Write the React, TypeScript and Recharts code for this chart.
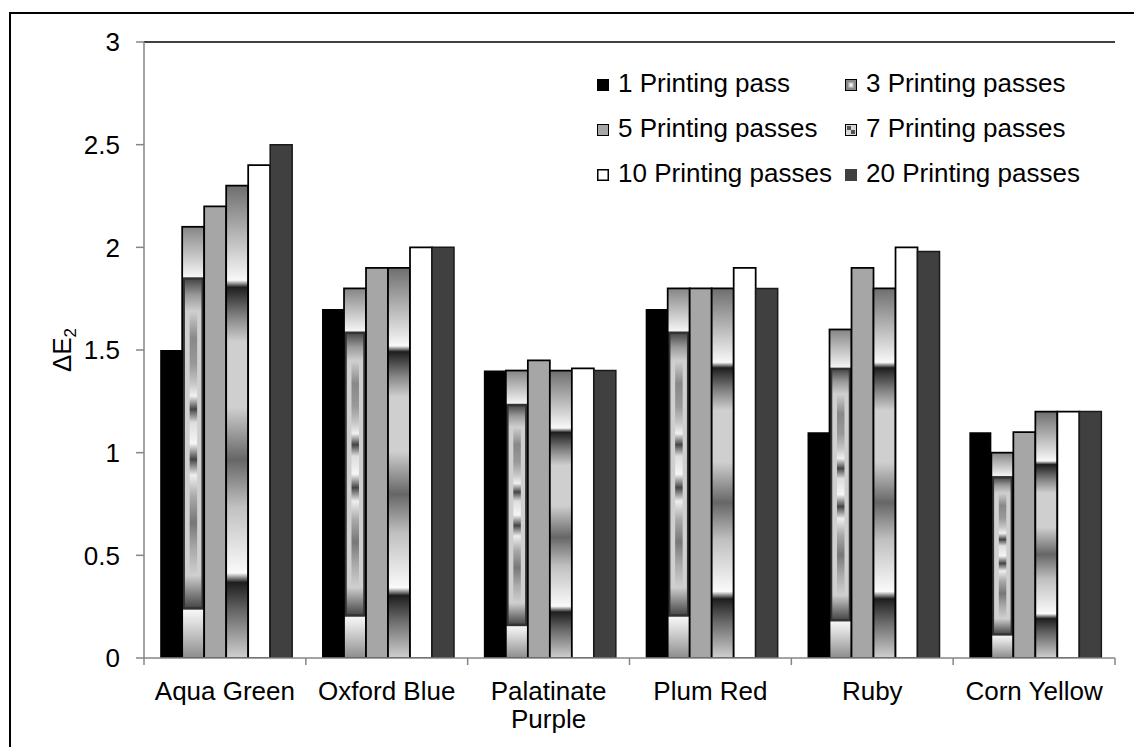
import React from "react";
import { BarChart, Bar, XAxis, YAxis, Legend, ReferenceLine } from "recharts";

const categories = ["Aqua Green", "Oxford Blue", "Palatinate Purple", "Plum Red", "Ruby", "Corn Yellow"];
const seriesNames = ["1 Printing pass", "3 Printing passes", "5 Printing passes", "7 Printing passes", "10 Printing passes", "20 Printing passes"];
const pass1 = [1.5, 1.7, 1.4, 1.7, 1.1, 1.1];
const pass3 = [2.1, 1.8, 1.4, 1.8, 1.6, 1.0];
const pass5 = [2.2, 1.9, 1.45, 1.8, 1.9, 1.1];
const pass7 = [2.3, 1.9, 1.4, 1.8, 1.8, 1.2];
const pass10 = [2.4, 2.0, 1.41, 1.9, 2.0, 1.2];
const pass20 = [2.5, 2.0, 1.4, 1.8, 1.98, 1.2];
const yTicks = [0, 0.5, 1, 1.5, 2, 2.5, 3];

const keys = ["p1", "p3", "p5", "p7", "p10", "p20"];
const seriesValues = [pass1, pass3, pass5, pass7, pass10, pass20];
const data = categories.map((name, i) => {
  const row: any = { name };
  keys.forEach((k, j) => (row[k] = seriesValues[j][i]));
  return row;
});

const FONT = "'Liberation Sans', Arial, sans-serif";
const AXIS = "#868686";
const TICK_SIZE = 7;
const TICK_MARGIN = 2;

const splitLabel = (s: string) => (s.length > 12 ? s.split(" ") : [s]);

const XTick = (props: any) => {
  const { x, y, payload, index, visibleTicksCount } = props;
  const off = payload?.offset ?? 0;
  const axisY = y - TICK_SIZE - TICK_MARGIN;
  const lines = splitLabel(String(payload.value));
  const isLast = index === (visibleTicksCount ?? categories.length) - 1;
  return (
    <g>
      <line x1={x - off} x2={x - off} y1={axisY} y2={axisY + TICK_SIZE} stroke={AXIS} strokeWidth={1.5} />
      {isLast && (
        <line x1={x + off} x2={x + off} y1={axisY} y2={axisY + TICK_SIZE} stroke={AXIS} strokeWidth={1.5} />
      )}
      <text x={x} y={y} textAnchor="middle" fontSize={26} fontFamily={FONT} fill="#000">
        {lines.map((l, i) => (
          <tspan key={i} x={x} dy={i === 0 ? 33 : 28}>
            {l}
          </tspan>
        ))}
      </text>
    </g>
  );
};

const YLabel = (props: any) => {
  const vb = props.viewBox || { x: 84, y: 42, width: 60, height: 616 };
  const cx = vb.x - 13;
  const cy = vb.y + vb.height / 2;
  return (
    <text
      x={cx}
      y={cy}
      transform={`rotate(-90, ${cx}, ${cy})`}
      textAnchor="middle"
      fontSize={26}
      fontFamily={FONT}
      fill="#000"
    >
      ΔE
      <tspan fontSize={17} dy={5}>
        2
      </tspan>
    </text>
  );
};

const Shape3 = (props: any) => {
  const { x, y, width: w, height: h } = props;
  if (!h || h <= 0) return null;
  const t = 0.12;
  const b = 0.885;
  const ty = y + t * h;
  const by = y + b * h;
  const ph = by - ty;
  return (
    <g>
      <rect x={x} y={y} width={w} height={ty - y} fill="url(#g3top)" />
      <rect x={x} y={by} width={w} height={y + h - by} fill="url(#g3bot)" />
      <rect x={x + 1.5} y={ty} width={w - 3} height={ph} fill="url(#g3mid)" stroke="#333" strokeWidth={2.5} />
      <rect x={x + w * 0.34} y={ty + ph * 0.1} width={w * 0.34} height={ph * 0.8} fill="url(#g3stripe)" />
      <rect x={x} y={y} width={w} height={h} fill="none" stroke="#000" strokeWidth={1.75} />
    </g>
  );
};

const LegendIcon = ({ k }: { k: string }) => {
  const s = 12;
  let inner: any = null;
  if (k === "p1") inner = <rect x={0} y={0} width={s} height={s} fill="#000" />;
  else if (k === "p3")
    inner = (
      <>
        <rect x={0.5} y={0.5} width={s - 1} height={s - 1} fill="#8a8a8a" stroke="#000" />
        <rect x={3.5} y={3.5} width={5} height={5} fill="#d0d0d0" />
        <rect x={5} y={5} width={2} height={2} fill="#f4f4f4" />
      </>
    );
  else if (k === "p5") inner = <rect x={0.5} y={0.5} width={s - 1} height={s - 1} fill="#a6a6a6" stroke="#000" />;
  else if (k === "p7")
    inner = (
      <>
        <rect x={0.5} y={0.5} width={s - 1} height={s - 1} fill="#d8d8d8" stroke="#000" />
        <rect x={2} y={2} width={4} height={4} fill="#555" />
        <rect x={6} y={6} width={4} height={4} fill="#555" />
      </>
    );
  else if (k === "p10") inner = <rect x={0.75} y={0.75} width={s - 1.5} height={s - 1.5} fill="#fff" stroke="#000" strokeWidth={1.5} />;
  else inner = <rect x={0} y={0} width={s} height={s} fill="#404040" />;
  return (
    <svg width={s} height={s} style={{ display: "inline-block", verticalAlign: "1px", marginRight: 9 }}>
      {inner}
    </svg>
  );
};

const LegendContent = (props: any) => {
  const payload = [...(props.payload || [])].sort(
    (a: any, b: any) => keys.indexOf(a.dataKey) - keys.indexOf(b.dataKey)
  );
  return (
    <div
      style={{
        display: "grid",
        gridTemplateColumns: "248px 270px",
        fontFamily: FONT,
        fontSize: 26,
        lineHeight: "45px",
        color: "#000",
        whiteSpace: "nowrap",
      }}
    >
      {payload.map((p: any) => (
        <div key={p.dataKey}>
          <LegendIcon k={p.dataKey} />
          {p.value}
        </div>
      ))}
    </div>
  );
};

export default function App() {
  const stroke = { stroke: "#000", strokeWidth: 1.75 };
  return (
    <div style={{ position: "absolute", left: 0, top: 0, width: 1134, height: 747, overflow: "hidden", background: "#fff" }}>
      <div
        style={{
          position: "absolute",
          left: 9,
          top: 12,
          width: 1200,
          height: 800,
          borderLeft: "2px solid #000",
          borderTop: "2px solid #000",
        }}
      />
      <BarChart
        width={1134}
        height={747}
        data={data}
        margin={{ top: 42, right: 19, left: 84, bottom: 29 }}
        barCategoryGap="10%"
        barGap={0}
      >
        <defs>
          <linearGradient id="g3top" x1="0" y1="0" x2="0" y2="1">
            <stop offset="0" stopColor="#858585" />
            <stop offset="0.75" stopColor="#dcdcdc" />
            <stop offset="1" stopColor="#fafafa" />
          </linearGradient>
          <linearGradient id="g3bot" x1="0" y1="0" x2="0" y2="1">
            <stop offset="0" stopColor="#fafafa" />
            <stop offset="0.3" stopColor="#dcdcdc" />
            <stop offset="1" stopColor="#8c8c8c" />
          </linearGradient>
          <linearGradient id="g3mid" x1="0" y1="0" x2="0" y2="1">
            <stop offset="0" stopColor="#444" />
            <stop offset="0.05" stopColor="#999" />
            <stop offset="0.1" stopColor="#cfcfcf" />
            <stop offset="0.9" stopColor="#cfcfcf" />
            <stop offset="0.95" stopColor="#888" />
            <stop offset="1" stopColor="#444" />
          </linearGradient>
          <linearGradient id="g3stripe" x1="0" y1="0" x2="0" y2="1">
            <stop offset="0" stopColor="#cfcfcf" />
            <stop offset="0.1" stopColor="#888" />
            <stop offset="0.2" stopColor="#999" />
            <stop offset="0.27" stopColor="#c4c4c4" />
            <stop offset="0.32" stopColor="#f0f0f0" />
            <stop offset="0.37" stopColor="#444" />
            <stop offset="0.42" stopColor="#ddd" />
            <stop offset="0.5" stopColor="#f5f5f5" />
            <stop offset="0.56" stopColor="#444" />
            <stop offset="0.62" stopColor="#eee" />
            <stop offset="0.7" stopColor="#aaa" />
            <stop offset="0.8" stopColor="#777" />
            <stop offset="0.9" stopColor="#aaa" />
            <stop offset="1" stopColor="#cfcfcf" />
          </linearGradient>
          <linearGradient id="g7" x1="0" y1="0" x2="0" y2="1">
            <stop offset="0" stopColor="#6e6e6e" />
            <stop offset="0.2" stopColor="#f8f8f8" />
            <stop offset="0.215" stopColor="#1e1e1e" />
            <stop offset="0.28" stopColor="#888" />
            <stop offset="0.33" stopColor="#cfcfcf" />
            <stop offset="0.47" stopColor="#cfcfcf" />
            <stop offset="0.58" stopColor="#666" />
            <stop offset="0.68" stopColor="#c0c0c0" />
            <stop offset="0.82" stopColor="#fafafa" />
            <stop offset="0.84" stopColor="#1e1e1e" />
            <stop offset="0.9" stopColor="#666" />
            <stop offset="1" stopColor="#d0d0d0" />
          </linearGradient>
        </defs>
        <XAxis
          dataKey="name"
          type="category"
          height={60}
          tickSize={TICK_SIZE}
          tickMargin={TICK_MARGIN}
          tickLine={false}
          axisLine={{ stroke: AXIS, strokeWidth: 1.5 }}
          tick={<XTick />}
          interval={0}
        />
        <YAxis
          type="number"
          domain={[0, 3]}
          ticks={yTicks}
          width={60}
          tickSize={8}
          tickMargin={16}
          axisLine={{ stroke: AXIS, strokeWidth: 1.5 }}
          tickLine={{ stroke: AXIS, strokeWidth: 1.5 }}
          tick={{ fill: "#000", fontSize: 26, fontFamily: FONT }}
          label={<YLabel />}
          allowDataOverflow
        />
        <YAxis
          yAxisId="r"
          orientation="right"
          domain={[0, 3]}
          width={0}
          tick={false}
          tickLine={false}
          axisLine={{ stroke: "#000", strokeWidth: 1.5 }}
        />
        <ReferenceLine y={3} stroke="#000" strokeWidth={1.5} />
        <Legend
          layout="horizontal"
          verticalAlign="middle"
          align="center"
          wrapperStyle={{ top: 61, left: 597, width: 530 }}
          content={<LegendContent />}
        />
        <Bar dataKey="p1" name={seriesNames[0]} fill="#000" isAnimationActive={false} />
        <Bar dataKey="p3" name={seriesNames[1]} fill="#a0a0a0" shape={<Shape3 />} isAnimationActive={false} />
        <Bar dataKey="p5" name={seriesNames[2]} fill="#a6a6a6" {...stroke} isAnimationActive={false} />
        <Bar dataKey="p7" name={seriesNames[3]} fill="url(#g7)" {...stroke} isAnimationActive={false} />
        <Bar dataKey="p10" name={seriesNames[4]} fill="#ffffff" {...stroke} isAnimationActive={false} />
        <Bar dataKey="p20" name={seriesNames[5]} fill="#404040" stroke="#1a1a1a" strokeWidth={1.5} isAnimationActive={false} />
      </BarChart>
    </div>
  );
}
